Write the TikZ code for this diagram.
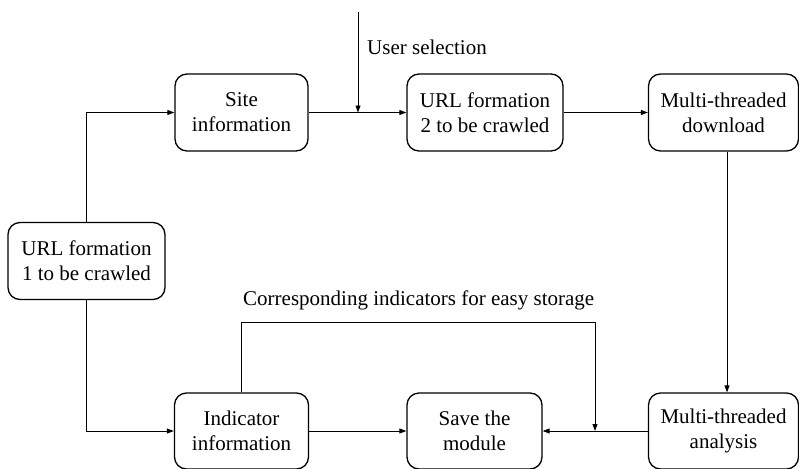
\documentclass[tikz,border=0pt]{standalone}
\usepackage{fontspec}
\setmainfont{Liberation Serif}
\newfontfamily\boxfont{Liberation Serif}
\usetikzlibrary{arrows.meta}
\begin{document}
\begin{tikzpicture}[x=1pt,y=-1pt,
  box/.style={draw, line width=1.3pt, rounded corners=12pt, align=center,
    inner sep=0pt, font=\boxfont\fontsize{21}{25}\selectfont},
  link/.style={line width=0.9pt, -{Triangle[length=7pt,width=5pt]}},
  lbl/.style={font=\boxfont\fontsize{21}{25}\selectfont, inner sep=0pt}]
\useasboundingbox (0,0) rectangle (799,468);
% upper row
\node[box, minimum width=133pt, minimum height=77pt] (site) at (241.5,112.5) {Site\\information};
\node[box, minimum width=156pt, minimum height=77pt] (url2) at (485,112.5) {URL formation\\2 to be crawled};
\node[box, minimum width=150pt, minimum height=77pt] (down) at (723.5,112.5) {Multi-threaded\\download};
% left
\node[box, minimum width=157pt, minimum height=77pt] (url1) at (86.5,261) {URL formation\\1 to be crawled};
% lower row
\node[box, minimum width=134pt, minimum height=76pt] (ind) at (241.5,431) {Indicator\\information};
\node[box, minimum width=135pt, minimum height=76pt] (save) at (474.5,431) {Save the\\module};
\node[box, minimum width=150pt, minimum height=76pt] (ana) at (723.5,431) {Multi-threaded\\analysis};
% junction points and labels
\coordinate (usertop) at (358,12);
\coordinate (userjoin) at (358,112.5);
\coordinate (fbjoin) at (595,431);
\node[lbl, anchor=west] (userlbl) at (367,47) {User selection};
\node[lbl, anchor=west] (corrlbl) at (243,300) {Corresponding indicators for easy storage};
% connectors
\draw[link] (url1.north) |- (site.west);
\draw[link] (url1.south) |- (ind.west);
\draw[link] (site.east) -- (url2.west);
\draw[link] (usertop) -- (userjoin);
\draw[link] (url2.east) -- (down.west);
\draw[link] (down.south -| 727,0) -- (ana.north -| 727,0);
\draw[link] (ana.west) -- (save.east);
\draw[link] (ind.east) -- (save.west);
\draw[link] (ind.north) -- (241.5,322) -| (fbjoin);
\end{tikzpicture}
\end{document}
